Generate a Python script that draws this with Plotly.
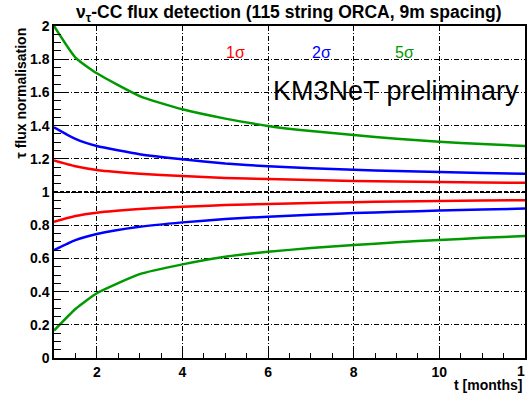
import plotly.graph_objects as go

t_months = [1, 1.5, 2, 3, 4, 5, 6, 7, 8, 9, 10, 11, 12]

up_1sigma = [1.19, 1.155, 1.133, 1.11, 1.096, 1.085, 1.078, 1.072, 1.067, 1.063, 1.06, 1.057, 1.055]
lo_1sigma = [0.821, 0.855, 0.875, 0.897, 0.911, 0.921, 0.928, 0.934, 0.939, 0.943, 0.946, 0.949, 0.951]
up_2sigma = [1.39, 1.32, 1.277, 1.228, 1.197, 1.172, 1.155, 1.143, 1.134, 1.126, 1.12, 1.115, 1.11]
lo_2sigma = [0.65, 0.71, 0.747, 0.79, 0.817, 0.837, 0.851, 0.863, 0.873, 0.881, 0.888, 0.894, 0.9]
up_5sigma = [2.0, 1.81, 1.715, 1.578, 1.498, 1.442, 1.398, 1.367, 1.343, 1.321, 1.303, 1.289, 1.277]
lo_5sigma = [0.165, 0.295, 0.39, 0.505, 0.564, 0.61, 0.64, 0.662, 0.68, 0.697, 0.711, 0.724, 0.735]

x_ticks = [2, 4, 6, 8, 10, 12]
x_tick_labels = ["2", "4", "6", "8", "10", "12"]
y_ticks = [0, 0.2, 0.4, 0.6, 0.8, 1, 1.2, 1.4, 1.6, 1.8, 2]
y_tick_labels = ["0", "0.2", "0.4", "0.6", "0.8", "1", "1.2", "1.4", "1.6", "1.8", "2"]

RED = "#ff0000"
BLUE = "#0000ff"
GREEN = "#009900"
FONT = "Liberation Sans"
TICKFONT = dict(family=FONT, size=14, color="black", weight="bold")

fig = go.Figure()

# reference line at 1
fig.add_trace(go.Scatter(x=[1, 12], y=[1, 1], mode="lines",
                         line=dict(color="black", width=2, dash="4px,2px"),
                         hoverinfo="skip", showlegend=False))

for ys, c in [(up_1sigma, RED), (lo_1sigma, RED), (up_2sigma, BLUE), (lo_2sigma, BLUE),
              (up_5sigma, GREEN), (lo_5sigma, GREEN)]:
    fig.add_trace(go.Scatter(x=t_months, y=ys, mode="lines",
                             line=dict(color=c, width=2.5, shape="spline", smoothing=0.5),
                             showlegend=False))

grid_dash = "5px,2px,1px,2px"

fig.update_xaxes(range=[1, 12], tickvals=x_ticks, ticktext=x_tick_labels,
                 ticks="inside", ticklen=8, tickwidth=1, tickcolor="black",
                 showline=True, linecolor="black", linewidth=1.5, mirror=True,
                 showgrid=True, gridcolor="black", gridwidth=1, griddash=grid_dash,
                 zeroline=False, tickfont=TICKFONT,
                 minor=dict(dtick=0.5, ticks="inside", ticklen=5, tickcolor="black", showgrid=False))
fig.update_yaxes(range=[0, 2], tickvals=y_ticks, ticktext=y_tick_labels,
                 ticks="inside", ticklen=12, tickwidth=1, tickcolor="black",
                 showline=True, linecolor="black", linewidth=1.5, mirror=True,
                 showgrid=True, gridcolor="black", gridwidth=1, griddash=grid_dash,
                 zeroline=False, tickfont=TICKFONT,
                 minor=dict(dtick=0.05, ticks="inside", ticklen=7, tickcolor="black", showgrid=False))

annotations = [
    dict(text="ν<sub>τ</sub>-CC flux detection (115 string ORCA, 9m spacing)",
         xref="paper", yref="paper", x=0.498, y=1.039, xanchor="center", yanchor="middle",
         showarrow=False, font=dict(family=FONT, size=17.5, color="black", weight="bold")),
    dict(text="τ flux normalisation", xref="paper", yref="paper", x=0, xshift=-34, y=1.0,
         xanchor="center", yanchor="top", textangle=-90, showarrow=False,
         font=dict(family=FONT, size=14, color="black", weight="bold")),
    dict(text="t [months]", xref="paper", yref="paper", x=1, xshift=-1, y=0, yshift=-37,
         xanchor="right", yanchor="bottom", showarrow=False,
         font=dict(family=FONT, size=14, color="black", weight="bold")),
    # last x tick label sits on the window edge: only its first digit is visible
    dict(text=x_tick_labels[-1][0], x=x_ticks[-1], xref="x", yref="paper", y=0, yshift=-4,
         xanchor="right", yanchor="top", showarrow=False, borderpad=0, xshift=1, font=TICKFONT),
    dict(text="1σ", x=5.23, y=1.843, showarrow=False, font=dict(family=FONT, size=16, color=RED)),
    dict(text="2σ", x=7.24, y=1.843, showarrow=False, font=dict(family=FONT, size=16, color=BLUE)),
    dict(text="5σ", x=9.19, y=1.843, showarrow=False, font=dict(family=FONT, size=16, color=GREEN)),
    dict(text="KM3NeT preliminary", x=8.98, y=1.608, showarrow=False,
         font=dict(family=FONT, size=27, color="black")),
]

fig.update_layout(width=528, height=396,
                  margin=dict(l=54, r=1, t=26, b=38),
                  paper_bgcolor="white", plot_bgcolor="white",
                  annotations=annotations, showlegend=False)

# remove the browser's default 8px body margin so the figure fills the window exactly
post = (
    "document.documentElement.style.overflow='hidden';"
    "document.body.style.margin='0';"
    "document.body.style.overflow='hidden';"
)
fig.write_html("out.html", config={"displayModeBar": False}, post_script=post)
